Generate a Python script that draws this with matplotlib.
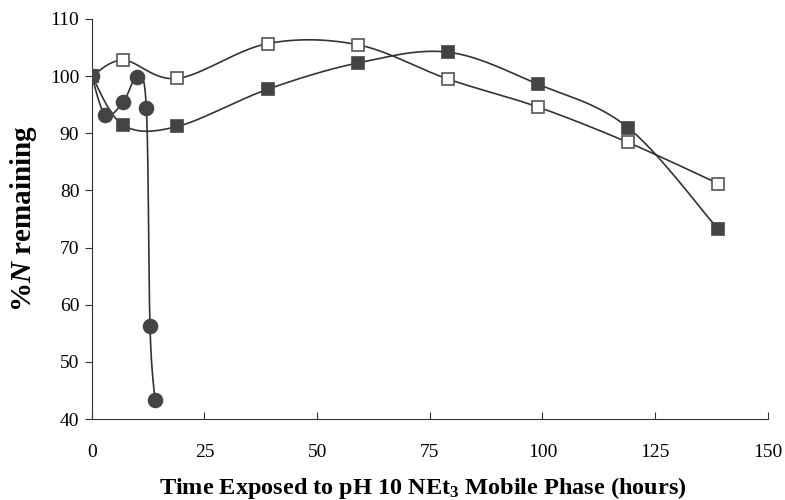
import numpy as np
from matplotlib import pyplot as plt

# time (hours) and %N remaining
t_circle = [0, 3, 7, 10, 12.1, 12.9, 14.0]
n_circle = [100, 93.2, 95.5, 99.9, 94.4, 56.3, 43.4]

t_filled = [0, 7, 19, 39, 59, 79, 99, 119, 139]
n_filled = [100, 91.4, 91.2, 97.7, 102.3, 104.2, 98.6, 91.0, 73.2]

t_open = [0, 7, 19, 39, 59, 79, 99, 119, 139]
n_open = [100, 102.8, 99.6, 105.7, 105.5, 99.5, 94.6, 88.4, 81.2]

x_ticks = [0, 25, 50, 75, 100, 125, 150]
y_ticks = [40, 50, 60, 70, 80, 90, 100, 110]


def smooth(x, y, n=30):
    # bezier smoothing like a spreadsheet "smoothed line"
    x = np.asarray(x, float)
    y = np.asarray(y, float)
    px = np.concatenate([[x[0]], x, [x[-1]]])
    py = np.concatenate([[y[0]], y, [y[-1]]])
    xs, ys = [], []
    s = np.linspace(0, 1, n)
    for i in range(1, len(px) - 2):
        p0 = np.array([px[i], py[i]])
        p3 = np.array([px[i + 1], py[i + 1]])
        p1 = p0 + (np.array([px[i + 1], py[i + 1]]) - np.array([px[i - 1], py[i - 1]])) / 6
        p2 = p3 - (np.array([px[i + 2], py[i + 2]]) - np.array([px[i], py[i]])) / 6
        b = ((1 - s) ** 3)[:, None] * p0 + (3 * (1 - s) ** 2 * s)[:, None] * p1 \
            + (3 * (1 - s) * s ** 2)[:, None] * p2 + (s ** 3)[:, None] * p3
        xs.extend(b[:, 0])
        ys.extend(b[:, 1])
    return xs, ys


def main():
    plt.rcParams["font.family"] = "Liberation Serif"
    plt.rcParams["mathtext.fontset"] = "custom"
    plt.rcParams["mathtext.it"] = "Liberation Serif:italic:bold"
    plt.rcParams["mathtext.rm"] = "Liberation Serif:bold"

    fig = plt.figure(figsize=(7.85, 5), dpi=100)
    ax = fig.add_axes([0.117, 0.162, 0.861, 0.8])

    line_c = "#333333"
    dark = "#444444"

    for t, n, face, mk, ms in [
        (t_open, n_open, "white", "s", 8.5),
        (t_filled, n_filled, dark, "s", 8.5),
        (t_circle, n_circle, dark, "o", 10),
    ]:
        sx, sy = smooth(t, n)
        ax.plot(sx, sy, color=line_c, lw=1.2, zorder=2)
        ax.plot(t, n, ls="none", marker=mk, ms=ms, mfc=face,
                mec="#555555" if face == "white" else dark, mew=1.2, zorder=3)

    ax.set_xlim(0, 150)
    ax.set_ylim(40, 110)
    ax.set_xticks(x_ticks)
    ax.set_yticks(y_ticks)
    ax.spines["top"].set_visible(False)
    ax.spines["right"].set_visible(False)
    for sp in ["left", "bottom"]:
        ax.spines[sp].set_color("#333333")
    ax.tick_params(axis="x", direction="in", length=5, labelsize=14, pad=18, color="#333333")
    ax.tick_params(axis="y", direction="out", length=5, labelsize=14, pad=4, color="#333333")

    fig.text(0.538, 0.012, r"Time Exposed to pH 10 NEt$_{3}$ Mobile Phase (hours)",
             fontsize=17.5, fontweight="bold", ha="center", va="baseline")
    ax.set_ylabel(r"%$N$ remaining", fontsize=21, fontweight="bold", labelpad=8)

    fig.savefig("out.png", dpi=100)


if __name__ == "__main__":
    main()
